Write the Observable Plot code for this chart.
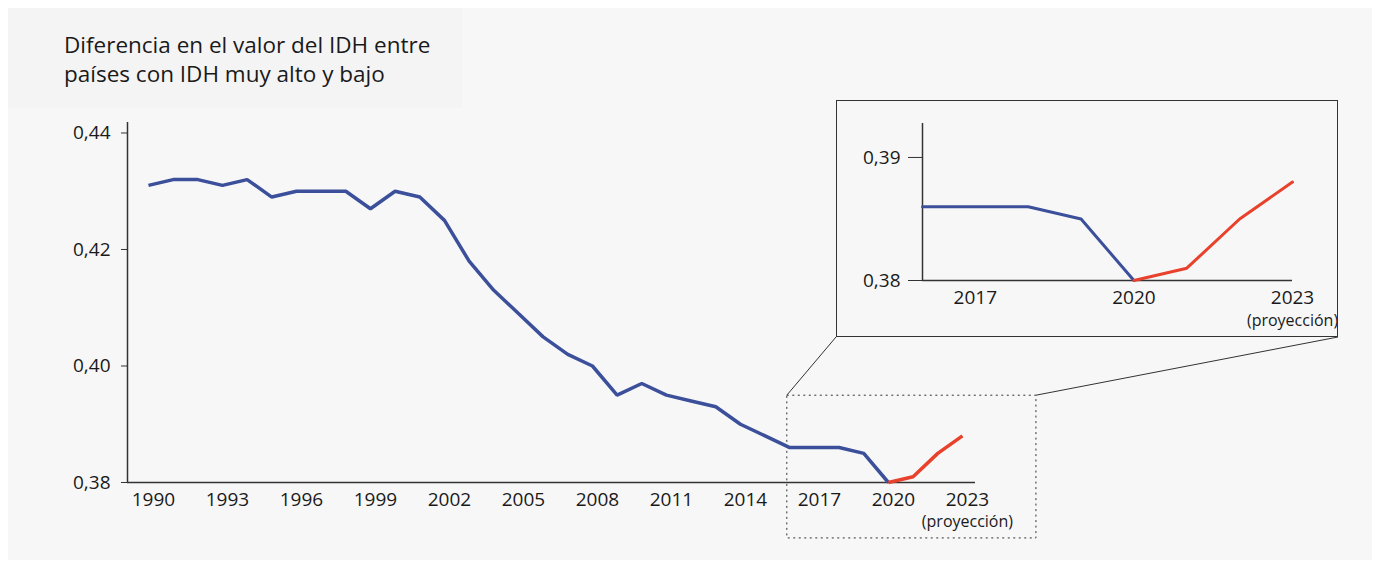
<!DOCTYPE html>
<html>
<head>
<meta charset="utf-8">
<script src="https://cdn.jsdelivr.net/npm/d3@7"></script>
<script src="https://cdn.jsdelivr.net/npm/@observablehq/plot@0.6"></script>
<style>
  body { margin: 0; background: #ffffff; font-family: "Open Sans", Lato, sans-serif; }
  #wrap { position: relative; width: 1380px; height: 563px; overflow: hidden; }
  #panel { position: absolute; left: 8px; top: 8px; width: 1364px; height: 552px; background: #f7f7f7; }
  #titlebox { position: absolute; left: 8px; top: 8px; width: 454px; height: 100px; background: #f5f4f5; }
  #title { position: absolute; left: 64px; top: 30px; font-size: 22.5px; line-height: 29px; color: #1a1a1a; white-space: nowrap; }
  #main { position: absolute; left: 0; top: 0; }
  #inset { position: absolute; left: 836px; top: 100px; }
  svg { overflow: visible; }
</style>
</head>
<body>
<div id="wrap">
  <div id="panel"></div>
  <div id="titlebox"></div>
  <div id="title">Diferencia en el valor del IDH entre<br>países con IDH muy alto y bajo</div>
  <div id="main"></div>
  <div id="inset"></div>
</div>
<script>
// ---- Data ----
const anosObservados = [1990,1991,1992,1993,1994,1995,1996,1997,1998,1999,2000,2001,2002,2003,2004,2005,2006,2007,2008,2009,2010,2011,2012,2013,2014,2015,2016,2017,2018,2019,2020];
const valoresObservados = [0.431,0.432,0.432,0.431,0.432,0.429,0.430,0.430,0.430,0.427,0.430,0.429,0.425,0.418,0.413,0.409,0.405,0.402,0.400,0.395,0.397,0.395,0.394,0.393,0.390,0.388,0.386,0.386,0.386,0.385,0.380];
const anosProyeccion = [2020,2021,2022,2023];
const valoresProyeccion = [0.380,0.381,0.385,0.388];
const ticksXPrincipal = [1990,1993,1996,1999,2002,2005,2008,2011,2014,2017,2020,2023];
const ticksYPrincipal = [0.38,0.40,0.42,0.44];
const ticksXDetalle = [2017,2020,2023];
const ticksYDetalle = [0.38,0.39];
// zoomed window in the main chart (x1, x2 in years; y1, y2 in index value)
const recuadro = [{x1: 2015.9, x2: 2026.0, y1: 0.3704, y2: 0.3949}];

const obs = anosObservados.map((a, i) => ({ano: a, valor: valoresObservados[i]}));
const proy = anosProyeccion.map((a, i) => ({ano: a, valor: valoresProyeccion[i]}));
const obsDetalle = obs.filter(d => d.ano >= 2016);

const AZUL = "#3b4f9b";
const ROJO = "#e8412c";
const EJE = "#333333";
const FUENTE = "'Open Sans', Lato, sans-serif";
const fmt = d => d.toFixed(2).replace(".", ",");

// ---- Main chart ----
const main = Plot.plot({
  width: 1380,
  height: 563,
  marginLeft: 127,
  marginRight: 405,
  marginTop: 122,
  marginBottom: 81,
  style: { background: "transparent", fontFamily: FUENTE, color: "#1a1a1a" },
  x: { domain: [1989.15, 2023.53] },
  y: { domain: [0.38, 0.4418] },
  marks: [
    Plot.rect(recuadro, { x1: "x1", x2: "x2", y1: "y1", y2: "y2", fill: "none", stroke: EJE, strokeWidth: 1, strokeDasharray: "2,3.5", clip: false }),
    Plot.ruleY([0.38], { stroke: EJE, strokeWidth: 1.5 }),
    Plot.ruleX([1989.15], { stroke: EJE, strokeWidth: 1.5 }),
    Plot.axisY({ ticks: ticksYPrincipal, tickFormat: fmt, tickSize: 6, tickPadding: 11, fontSize: 19, stroke: EJE, label: null }),
    Plot.axisX({ ticks: ticksXPrincipal, tickFormat: d => String(d), tickSize: 0, tickPadding: 10, dx: 5, fontSize: 19, label: null }),
    Plot.text([{ano: 2023, valor: 0.38}], { x: "ano", y: "valor", text: () => "(proyección)", dy: 39, dx: 5, fontSize: 16, fill: "#1a1a1a" }),
    Plot.line(obs, { x: "ano", y: "valor", stroke: AZUL, strokeWidth: 3.5, strokeLinejoin: "miter", strokeLinecap: "butt" }),
    Plot.line(proy, { x: "ano", y: "valor", stroke: ROJO, strokeWidth: 3.5, strokeLinejoin: "miter", strokeLinecap: "butt" })
  ]
});
document.getElementById("main").appendChild(main);

// ---- Inset chart ----
const INSET = { left: 836, top: 100, width: 502, height: 237 };
const inset = Plot.plot({
  width: INSET.width,
  height: INSET.height,
  marginLeft: 86,
  marginRight: 46,
  marginTop: 23,
  marginBottom: 57,
  style: { background: "#f7f7f7", fontFamily: FUENTE, color: "#1a1a1a", outline: "1.2px solid #333", outlineOffset: "-1px" },
  x: { domain: [2016, 2023] },
  y: { domain: [0.38, 0.39276] },
  marks: [
    Plot.ruleY([0.38], { stroke: EJE, strokeWidth: 1.5 }),
    Plot.ruleX([2016], { stroke: EJE, strokeWidth: 1.5 }),
    Plot.axisY({ ticks: ticksYDetalle, tickFormat: fmt, tickSize: 14, tickPadding: 8, fontSize: 19, stroke: EJE, label: null }),
    Plot.axisX({ ticks: ticksXDetalle, tickFormat: d => String(d), tickSize: 0, tickPadding: 10, fontSize: 19, label: null }),
    Plot.text([{ano: 2023, valor: 0.38}], { x: "ano", y: "valor", text: () => "(proyección)", dy: 40, fontSize: 16, fill: "#1a1a1a" }),
    Plot.line(obsDetalle, { x: "ano", y: "valor", stroke: AZUL, strokeWidth: 3, strokeLinejoin: "miter" }),
    Plot.line(proy, { x: "ano", y: "valor", stroke: ROJO, strokeWidth: 3, strokeLinejoin: "miter" })
  ]
});
document.getElementById("inset").appendChild(inset);

// ---- Connector lines from the dotted window to the inset box ----
const sx = main.scale("x"), sy = main.scale("y");
const r = recuadro[0];
const conectores = [
  [sx.apply(r.x1), sy.apply(r.y2), INSET.left, INSET.top + INSET.height],
  [sx.apply(r.x2), sy.apply(r.y2), INSET.left + INSET.width, INSET.top + INSET.height]
];
d3.select(main).append("g")
  .selectAll("line").data(conectores).join("line")
  .attr("x1", d => d[0]).attr("y1", d => d[1])
  .attr("x2", d => d[2]).attr("y2", d => d[3])
  .attr("stroke", EJE).attr("stroke-width", 1);
</script>
</body>
</html>
